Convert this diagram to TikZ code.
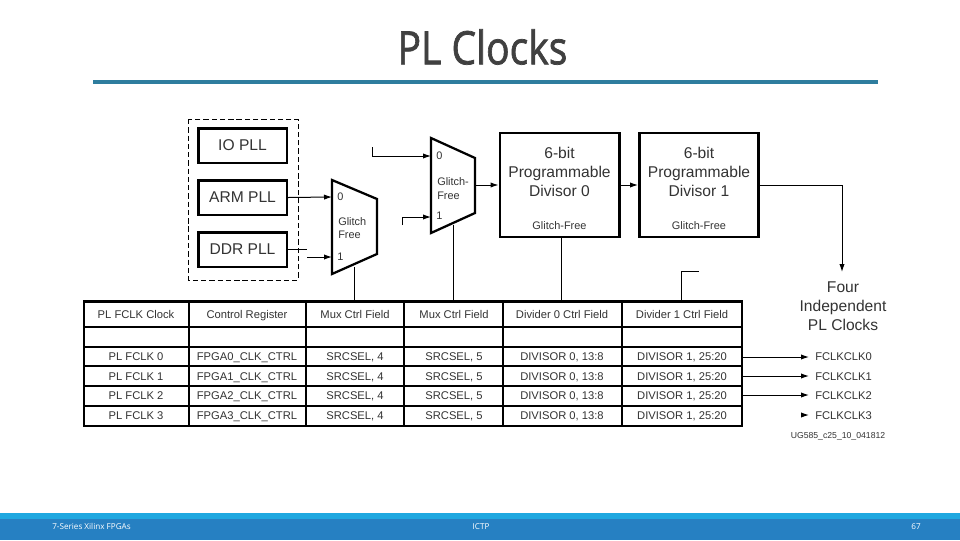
\documentclass[tikz,border=0pt]{standalone}
\usepackage{xcolor}
\usepackage{fontspec}
\setmainfont{Liberation Sans}
\newfontfamily\slidefont{Open Sans}
\newfontfamily\titlefont[FakeBold=1.6]{Open Sans}
\usetikzlibrary{arrows.meta}
\definecolor{inkgray}{HTML}{333333}
\definecolor{titlegray}{HTML}{404040}
\definecolor{rulecol}{HTML}{2E7D9E}
\definecolor{barlight}{HTML}{1FA8E0}
\definecolor{bardark}{HTML}{2680C2}

\begin{document}
\begin{tikzpicture}[
  x=0.75pt,y=-0.75pt,
  every node/.style={inner sep=0pt,text=inkgray},
  pll/.style={draw=black,line width=2pt,minimum width=66.5pt,minimum height=26pt,
              font=\fontsize{11.7pt}{14pt}\selectfont},
  dvd/.style={draw=black,line width=2pt,minimum width=89.5pt,minimum height=78pt},
  dvt/.style={font=\fontsize{11.7pt}{14.25pt}\selectfont,align=center},
  sml/.style={font=\fontsize{8.2pt}{10pt}\selectfont,align=left},
  cel/.style={font=\fontsize{8.4pt}{10pt}\selectfont,text height=7.8pt,text depth=1.8pt},
  ln/.style ={black,line width=0.75pt},
  arr/.style={black,line width=0.75pt,-{Latex[length=6pt,width=4pt]}},
  grd/.style={black,line width=1.7pt},
  foot/.style={font=\slidefont\fontsize{6.1pt}{7pt}\selectfont,text=white}]

  \useasboundingbox (0,0) rectangle (960,540);
  \fill[white] (0,0) rectangle (960,540);

  % --- title and rule
  \node (title) at (482.5,47)
    {\scalebox{0.85}[1]{\titlefont\fontsize{34.5pt}{40pt}\selectfont\textcolor{titlegray}{PL Clocks}}};
  \draw[rulecol,line width=2.4pt] (93,82) -- (878,82);

  % --- PLL group
  \draw[black,line width=0.75pt,dash pattern=on 4pt off 2.2pt] (188.5,119) rectangle (298,280);
  \node[pll] (iopll)  at (242.5,145.5) {IO PLL};
  \node[pll] (armpll) at (242.5,197.5) {ARM PLL};
  \node[pll] (ddrpll) at (242.5,249.5) {DDR PLL};

  % --- the two muxes
  \draw[black,line width=1.7pt,line join=miter] (332,180) -- (377,199) -- (377,254) -- (332,274) -- cycle;
  \draw[black,line width=1.7pt,line join=miter] (431,138) -- (475,158) -- (475,213) -- (431,233) -- cycle;
  \coordinate (muxa0)   at (332,197);
  \coordinate (muxa1)   at (332,257);
  \coordinate (muxaout) at (354,267);
  \coordinate (muxb0)   at (431,156);
  \coordinate (muxb1)   at (431,217);
  \coordinate (muxbin)  at (475,185);
  \coordinate (muxbout) at (453,225);
  \node[sml,anchor=west] (muxa0t) at (337,197) {0};
  \node[sml,anchor=west] (muxa1t) at (337,257) {1};
  \node[sml,anchor=west] (muxat)  at (338,228) {Glitch\\Free};
  \node[sml,anchor=west] (muxb0t) at (436,156) {0};
  \node[sml,anchor=west] (muxb1t) at (436,216) {1};
  \node[sml,anchor=west] (muxbt)  at (437,188.5) {Glitch-\\Free};

  % --- divisors
  \node[dvd] (diva) at (559.5,185) {};
  \node[dvd] (divb) at (699,185) {};
  \node[dvt] (divat) at (559.5,172) {6-bit\\Programmable\\Divisor 0};
  \node[dvt] (divbt) at (699,172) {6-bit\\Programmable\\Divisor 1};
  \node[sml] (divag) at (559.5,226) {Glitch-Free};
  \node[sml] (divbg) at (699,226) {Glitch-Free};

  % --- table grid
  \node[draw=black,line width=2pt,minimum width=493.5pt,minimum height=93.5pt] (tbl) at (413,363.5) {};
  \draw[grd] (84,327) -- (742,327);
  \draw[grd,line width=2pt] (84,347) -- (742,347);
  \draw[grd] (84,366) -- (742,366);
  \draw[grd] (84,386) -- (742,386);
  \draw[grd] (84,406) -- (742,406);
  \draw[grd] (189,301) -- (189,426);
  \draw[grd] (306,301) -- (306,426);
  \draw[grd] (404,301) -- (404,426);
  \draw[grd] (503,301) -- (503,426);
  \draw[grd] (622,301) -- (622,426);

  % --- table text
  \node[cel] (h1) at (136,314) {PL FCLK Clock};
  \node[cel] (h2) at (247,314) {Control Register};
  \node[cel] (h3) at (355,314) {Mux Ctrl Field};
  \node[cel] (h4) at (454,314) {Mux Ctrl Field};
  \node[cel] (h5) at (562,314) {Divider 0 Ctrl Field};
  \node[cel] (h6) at (682,314) {Divider 1 Ctrl Field};

  \foreach \r/\y in {0/356,1/376,2/395,3/415}{
    \node[cel] (clk\r)  at (136,\y) {PL FCLK \r};
    \node[cel] (reg\r)  at (247,\y) {FPGA\r\_CLK\_CTRL};
    \node[cel] (msa\r)  at (355,\y) {SRCSEL, 4};
    \node[cel] (msb\r)  at (454,\y) {SRCSEL, 5};
    \node[cel] (dva\r)  at (562,\y) {DIVISOR 0, 13:8};
    \node[cel] (dvb\r)  at (682,\y) {DIVISOR 1, 25:20};
    \node[cel,anchor=west] (fclk\r) at (815,\y) {FCLKCLK\r};
  }

  % --- right side labels
  \node[dvt] (four) at (843,306) {Four\\Independent\\PL Clocks};
  \node[font=\fontsize{6.5pt}{8pt}\selectfont] (ugnum) at (838,436) {UG585\_c25\_10\_041812};

  % --- connectors
  \draw[arr] (armpll.east) -- (muxa0);
  \coordinate (ddrstub) at (307,249.5);
  \coordinate (ddrfrom) at (307,257);
  \draw[ln]  (ddrpll.east) -- (ddrstub);
  \draw[arr] (ddrfrom) -- (muxa1);
  \coordinate (bfree0) at (372,147);
  \coordinate (bfree1) at (402,225);
  \draw[arr] (bfree0) |- (muxb0);
  \draw[arr] (bfree1) |- (muxb1);
  \draw[arr] (muxbin) -- (diva.west);
  \draw[arr] (diva.east) -- (divb.west);
  \coordinate (fourin) at (842,272);
  \draw[arr] (divb.east) -| (fourin);

  % --- connectors down into the table
  \coordinate (tbla) at (354,301);
  \coordinate (tblb) at (453,301);
  \coordinate (tblc) at (561,301);
  \coordinate (tbld) at (681,301);
  \coordinate (dfree) at (699,271);
  \coordinate (dvab) at (561,237);
  \draw[ln] (muxaout) -- (tbla);
  \draw[ln] (muxbout) -- (tblb);
  \draw[ln] (dvab) -- (tblc);
  \draw[ln] (tbld) |- (dfree);

  % --- FCLK outputs, the last one is only a head
  \coordinate (outa0) at (742,357);
  \coordinate (outb0) at (809,357);
  \coordinate (outa1) at (742,376);
  \coordinate (outb1) at (809,376);
  \coordinate (outa2) at (742,395);
  \coordinate (outb2) at (809,395);
  \coordinate (outa3) at (801,415);
  \coordinate (outb3) at (809,415);
  \draw[arr] (outa0) -- (outb0);
  \draw[arr] (outa1) -- (outb1);
  \draw[arr] (outa2) -- (outb2);
  \draw[arr] (outa3) -- (outb3);

  % --- footer bar
  \fill[barlight] (0,513) rectangle (960,518.5);
  \fill[bardark]  (0,518.5) rectangle (960,540);
  \node[foot,anchor=base west] (ftl) at (52,529.5) {7-Series Xilinx FPGAs};
  \node[foot,anchor=base] (ftc) at (481,529.5) {ICTP};
  \node[foot,anchor=base] (ftr) at (916,529.5) {67};
\end{tikzpicture}
\end{document}
